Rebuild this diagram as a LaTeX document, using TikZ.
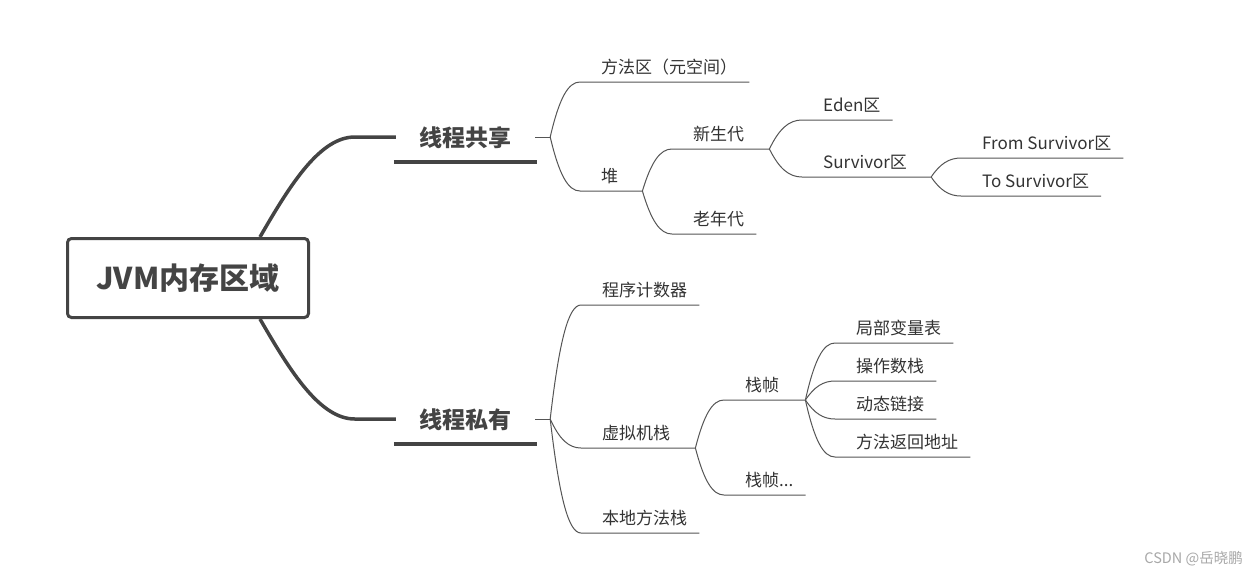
\documentclass[tikz,border=0pt]{standalone}
\usepackage{fontspec}
\setmainfont{Noto Sans CJK SC}
\usetikzlibrary{calc}
\definecolor{txt}{HTML}{333333}
\definecolor{dark}{HTML}{444444}
\definecolor{ln}{HTML}{555555}
\definecolor{wmark}{HTML}{A8A8A8}
\begin{document}
\begin{tikzpicture}[x=1pt,y=-1pt,
 leaf/.style={anchor=south west, inner xsep=0pt, inner ysep=4.5pt, text height=13pt, text depth=4pt, font=\fontsize{17}{20}\selectfont, text=txt},
 topic/.style={anchor=south, minimum width=143pt, inner xsep=0pt, inner ysep=10pt, text height=19pt, text depth=5pt, font=\fontsize{23}{26}\selectfont\bfseries, text=dark},
 rootbox/.style={draw=dark, line width=3pt, rounded corners=4pt, minimum width=241pt, minimum height=79pt, font=\fontsize{30}{34}\selectfont\bfseries, text=dark},
 thickline/.style={draw=dark, line width=3.5pt},
 thinline/.style={draw=ln, line width=1pt},
 br/.style={to path={let \p1=(\tikztostart), \p2=(\tikztotarget) in .. controls ({\x1+0.3*(\x2-\x1)},{\y1+0.7*(\y2-\y1)}) and ({\x1+0.6*(\x2-\x1)},{\y2}) .. (\tikztotarget) \tikztonodes}},
]
\useasboundingbox[fill=white] (0,0) rectangle (1258,574);

% root and main topics
\node[rootbox] (root) at (188,278) {JVM内存区域};
\node[topic] (shared) at (465.5,162) {线程共享};
\node[topic] (private) at (465.5,444) {线程私有};

\coordinate (r1) at ([xshift=-50pt]root.north east);
\coordinate (r2) at ([xshift=-50pt]root.south east);
\coordinate (t1) at ([xshift=2pt,yshift=25pt]shared.south west);
\coordinate (t2) at ([xshift=2pt,yshift=25pt]private.south west);

\draw[thickline] (r1) .. controls ($(r1)+(30,-52)$) and ($(t1)+(-76,0)$) .. ($(t1)+(-41,0)$) -- (t1);
\draw[thickline] (r2) .. controls ($(r2)+(30,52)$) and ($(t2)+(-76,0)$) .. ($(t2)+(-41,0)$) -- (t2);
\draw[thickline] (shared.south west) -- (shared.south east);
\draw[thickline] (private.south west) -- (private.south east);

\draw[thinline] ([xshift=-2pt,yshift=25pt]shared.south east) -- ++(15,0) coordinate (B1);
\draw[thinline] ([xshift=-2pt,yshift=25pt]private.south east) -- ++(15,0) coordinate (B5);

% shared subtree
\node[leaf] (m1) at (601,82) {方法区（元空间）};
\node[leaf] (heap) at (601,191) {堆};
\draw[thinline] (B1) to[br] ([xshift=-21pt]m1.south west) -- ([xshift=12pt]m1.south east);
\draw[thinline] (B1) to[br] ([xshift=-21pt]heap.south west) -- ([xshift=24pt]heap.south east) coordinate (B2);

\node[leaf] (young) at (693,149) {新生代};
\node[leaf] (old) at (693,234) {老年代};
\draw[thinline] (B2) to[br] ([xshift=-21pt]young.south west) -- ([xshift=25pt]young.south east) coordinate (B3);
\draw[thinline] (B2) to[br] ([xshift=-21pt]old.south west) -- ([xshift=12pt]old.south east);

\node[leaf] (eden) at (823,120) {Eden区};
\node[leaf] (surv) at (823,177) {Survivor区};
\draw[thinline] (B3) to[br] ([xshift=-21pt]eden.south west) -- ([xshift=12pt]eden.south east);
\draw[thinline] (B3) to[br] ([xshift=-21pt]surv.south west) -- ([xshift=24pt]surv.south east) coordinate (B4);

\node[leaf] (from) at (982,158) {From Survivor区};
\node[leaf] (to) at (982,196) {To Survivor区};
\draw[thinline] (B4) to[br] ([xshift=-21pt]from.south west) -- ([xshift=12pt]from.south east);
\draw[thinline] (B4) to[br] ([xshift=-21pt]to.south west) -- ([xshift=12pt]to.south east);

% private subtree
\node[leaf] (pc) at (602,305) {程序计数器};
\node[leaf] (vms) at (602,448) {虚拟机栈};
\node[leaf] (nms) at (602,533) {本地方法栈};
\draw[thinline] (B5) to[br] ([xshift=-21pt]pc.south west) -- ([xshift=12pt]pc.south east);
\draw[thinline] (B5) to[br] ([xshift=-21pt]vms.south west) -- ([xshift=25pt]vms.south east) coordinate (B6);
\draw[thinline] (B5) to[br] ([xshift=-21pt]nms.south west) -- ([xshift=12pt]nms.south east);

\node[leaf] (frame) at (745,400) {栈帧};
\node[leaf] (frames) at (745,495) {栈帧...};
\draw[thinline] (B6) to[br] ([xshift=-21pt]frame.south west) -- ([xshift=26pt]frame.south east) coordinate (B7);
\draw[thinline] (B6) to[br] ([xshift=-21pt]frames.south west) -- ([xshift=12pt]frames.south east);

\node[leaf] (lv) at (856,343) {局部变量表};
\node[leaf] (os) at (856,381) {操作数栈};
\node[leaf] (dl) at (856,419) {动态链接};
\node[leaf] (ra) at (856,457) {方法返回地址};
\draw[thinline] (B7) to[br] ([xshift=-21pt]lv.south west) -- ([xshift=12pt]lv.south east);
\draw[thinline] (B7) to[br] ([xshift=-21pt]os.south west) -- ([xshift=12pt]os.south east);
\draw[thinline] (B7) to[br] ([xshift=-21pt]dl.south west) -- ([xshift=12pt]dl.south east);
\draw[thinline] (B7) to[br] ([xshift=-21pt]ra.south west) -- ([xshift=12pt]ra.south east);

% watermark
\node[anchor=east, inner sep=0pt, text=wmark, font=\fontsize{14.5}{17}\selectfont] (wm) at (1243,559) {CSDN @岳晓鹏};
\end{tikzpicture}
\end{document}
